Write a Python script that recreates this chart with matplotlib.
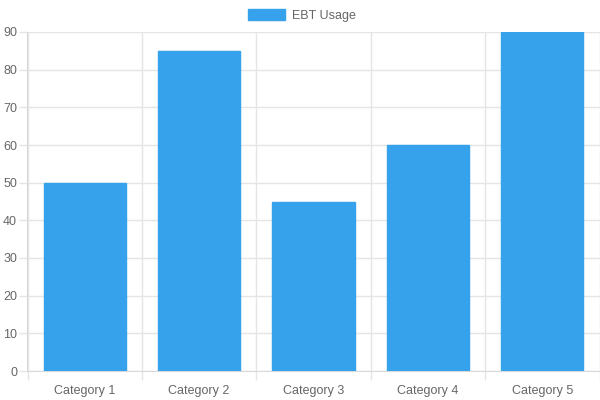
import matplotlib
matplotlib.use("Agg")
import matplotlib.pyplot as plt
import numpy as np
from matplotlib.patches import Patch

categories = ["Category 1", "Category 2", "Category 3", "Category 4", "Category 5"]
values = [50, 85, 45, 60, 90]
series_name = "EBT Usage"
yticks = [0, 10, 20, 30, 40, 50, 60, 70, 80, 90]

plt.rcParams['font.family'] = ['Liberation Sans', 'DejaVu Sans']
fig = plt.figure(figsize=(6, 4), dpi=100)
ax = fig.add_axes([27.5/600, 1-371/400, (599.5-27.5)/600, (371-32)/400])

x = np.arange(len(categories))
bar_color = "#36A2EB"
ax.bar(x, values, width=0.72, color=bar_color, edgecolor=bar_color, linewidth=1, zorder=3)

ax.set_xlim(-0.5, len(categories) - 0.5)
ax.set_ylim(0, 90)
ax.set_yticks(yticks)
ax.set_xticks(x)
ax.set_xticklabels(categories)
ax.set_xticks(np.arange(-0.5, len(categories), 1), minor=True)

grid_color = "#e5e5e5"
ax.grid(True, axis='y', color=grid_color, linewidth=1, zorder=0)
ax.grid(True, axis='x', which='minor', color=grid_color, linewidth=1, zorder=0)
ax.tick_params(axis='x', which='major', length=0, pad=10, labelsize=9, labelcolor="#666666")
ax.tick_params(axis='x', which='minor', length=6.5, color=grid_color, width=1)
ax.tick_params(axis='y', which='major', length=5.5, color=grid_color, width=1, pad=2, labelsize=9, labelcolor="#666666")
for side in ['top', 'right']:
    ax.spines[side].set_visible(False)
ax.spines['left'].set_color("#d9d9d9")
ax.spines['bottom'].set_color("#d9d9d9")

handles = [Patch(facecolor=bar_color, edgecolor=bar_color)]
fig.legend(handles, [series_name], loc='center', bbox_to_anchor=(0.503, 1-15.5/400),
           frameon=False, fontsize=9, handlelength=3.0, handleheight=1.0,
           handletextpad=0.5, labelcolor="#666666")

fig.savefig("out.png", dpi=100)
